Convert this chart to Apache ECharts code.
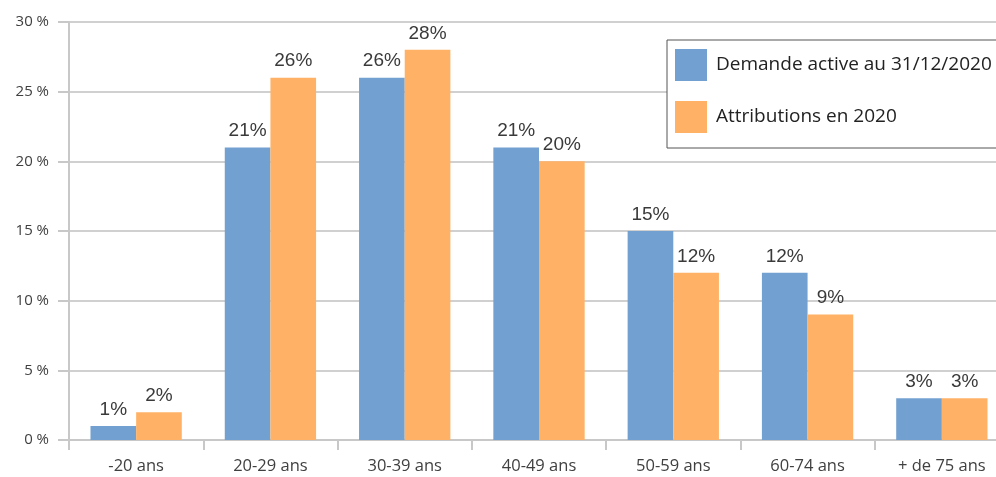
<!DOCTYPE html>
<html>
<head>
<meta charset="utf-8">
<script src="https://cdn.jsdelivr.net/npm/echarts@6/dist/echarts.min.js"></script>
<style>
  html, body { margin: 0; padding: 0; background: #fff; }
  #chart { width: 996px; height: 477px; }
</style>
</head>
<body>
<div id="chart"></div>
<script>
// Age groups and shares (%) for each series
const categories = ['-20 ans', '20-29 ans', '30-39 ans', '40-49 ans', '50-59 ans', '60-74 ans', '+ de 75 ans'];
const demandeActive = [1, 21, 26, 21, 15, 12, 3];
const attributions = [2, 26, 28, 20, 12, 9, 3];
const seriesNames = ['Demande active au 31/12/2020', 'Attributions en 2020'];

const chart = echarts.init(document.getElementById('chart'));

const labelStyle = {
  show: true,
  position: 'top',
  distance: 7,
  formatter: p => p.value + '%',
  color: '#3a3a3a',
  fontFamily: 'Liberation Sans',
  fontSize: 19,
  fontWeight: 'normal'
};

chart.setOption({
  animation: false,
  // the plot runs slightly past the right edge of the canvas
  grid: { left: 69, width: 940, top: 22, bottom: 37, containLabel: false, outerBoundsMode: 'none' },
  legend: {
    orient: 'vertical',
    left: 667,
    top: 40,
    padding: [9, 60, 15, 8],
    itemWidth: 32,
    itemHeight: 32,
    itemGap: 20,
    borderColor: '#555',
    borderWidth: 1,
    backgroundColor: '#fff',
    icon: 'rect',
    textStyle: { fontFamily: 'Open Sans', fontSize: 19, color: '#222', padding: [10, 0, 0, 4] },
    data: seriesNames
  },
  xAxis: {
    type: 'category',
    data: categories,
    axisLine: { show: true, lineStyle: { color: '#c8c8c8', width: 2 } },
    axisTick: { show: true, length: 10, lineStyle: { color: '#c8c8c8', width: 2 } },
    axisLabel: { color: '#404040', fontFamily: 'Open Sans', fontSize: 16.5, margin: 18 }
  },
  yAxis: {
    type: 'value',
    min: 0,
    max: 30,
    interval: 5,
    axisLine: { show: true, lineStyle: { color: '#c8c8c8', width: 2 } },
    axisTick: { show: true, length: 11, lineStyle: { color: '#c8c8c8', width: 2 } },
    splitLine: { show: true, lineStyle: { color: '#d0d0d0', width: 2 } },
    axisLabel: { color: '#404040', fontFamily: 'Open Sans', fontSize: 15, margin: 20, formatter: v => v + ' %' }
  },
  series: [
    {
      name: seriesNames[0],
      type: 'bar',
      data: demandeActive,
      barGap: '0%',
      barCategoryGap: '32%',
      itemStyle: { color: '#72a0d0' },
      label: labelStyle
    },
    {
      name: seriesNames[1],
      type: 'bar',
      data: attributions,
      itemStyle: { color: '#ffb266' },
      label: labelStyle
    }
  ]
});
</script>
</body>
</html>
